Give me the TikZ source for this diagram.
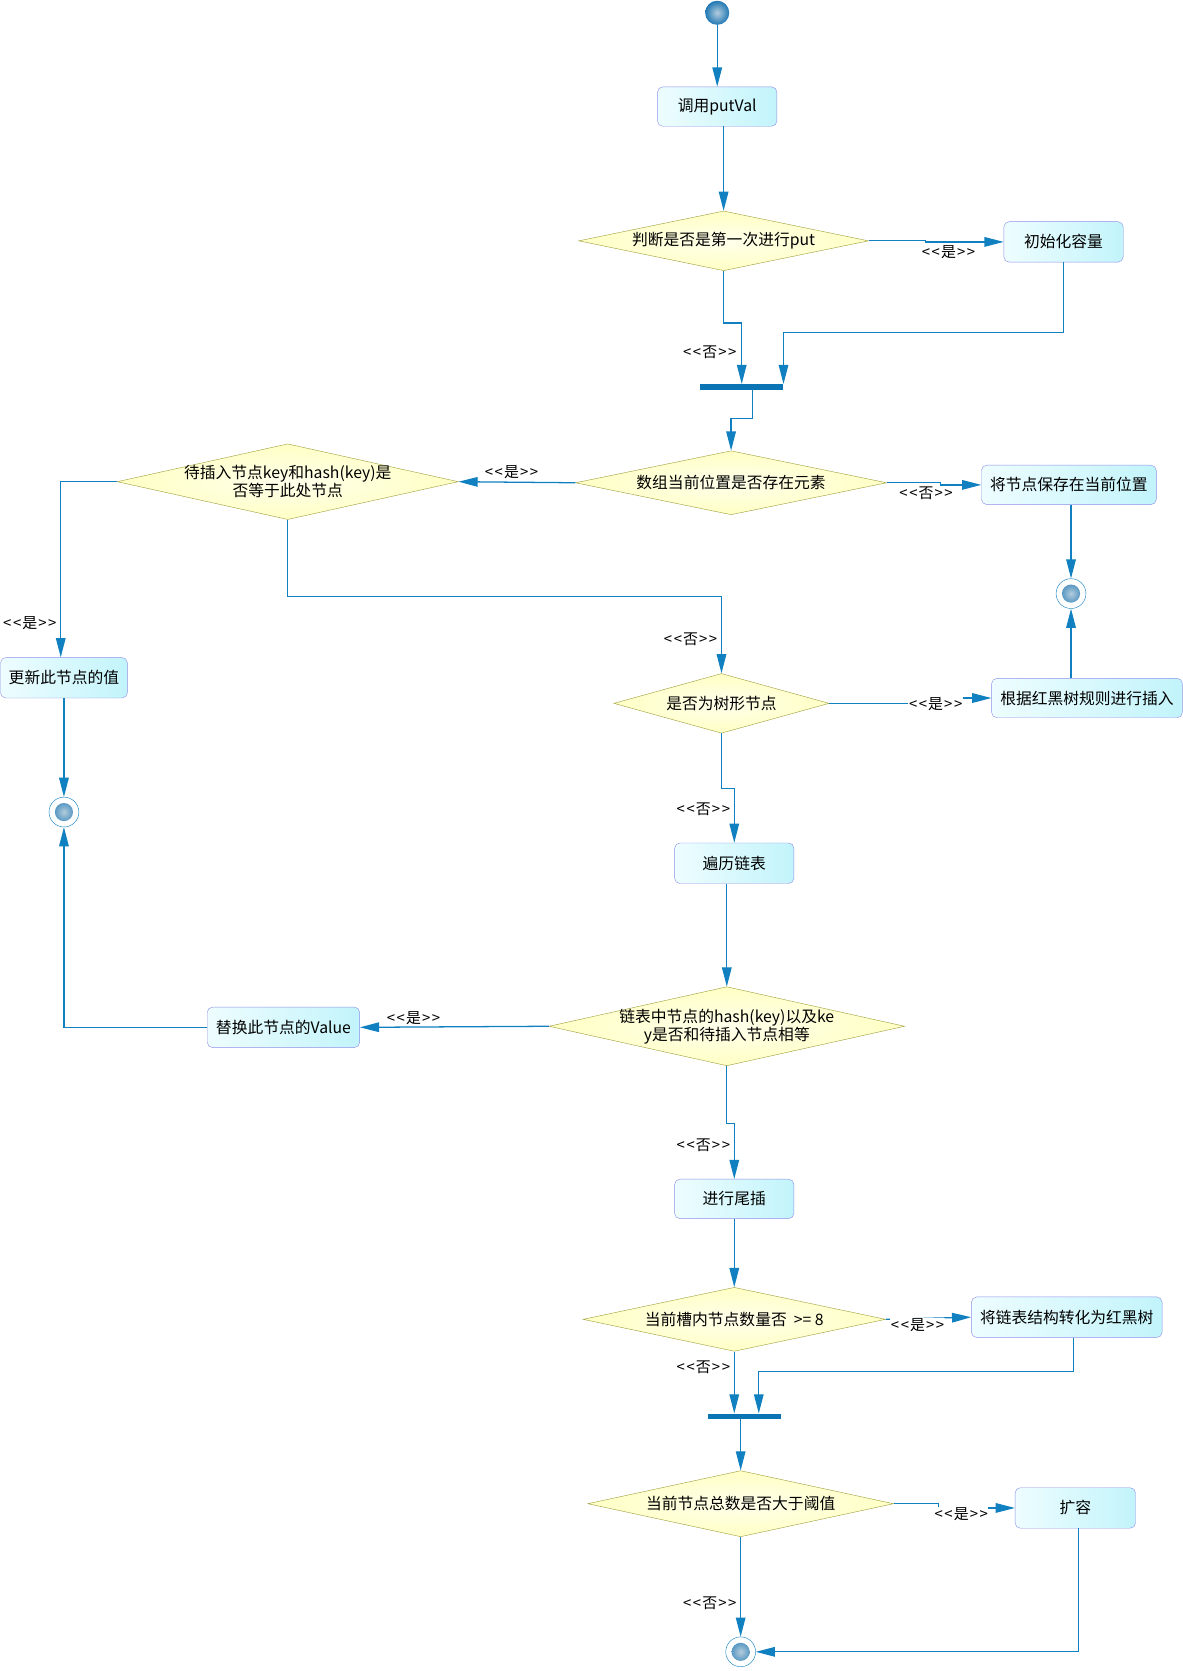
\documentclass[tikz,border=0pt]{standalone}
\usepackage{fontspec}
\setmainfont{Noto Sans CJK SC}
\usetikzlibrary{shapes.geometric,arrows.meta,shadings}

\definecolor{flowblue}{HTML}{1080C0}
\definecolor{barblue}{HTML}{0A74B4}
\definecolor{ballin}{HTML}{B4CCDC}
\definecolor{ballout}{HTML}{2078B4}
\definecolor{boxborder}{HTML}{9090E8}
\definecolor{boxleft}{HTML}{EEFDFF}
\definecolor{boxright}{HTML}{C2F4FB}
\definecolor{diaborder}{HTML}{A0A040}
\definecolor{diain}{HTML}{FFFFEC}
\definecolor{diaout}{HTML}{FFFFC4}

\newcommand\lblyes{<\kern1.5pt<\kern1pt是\kern1pt>\kern1.5pt>}
\newcommand\lblno{<\kern1.5pt<\kern1pt否\kern1pt>\kern1.5pt>}

\tikzset{
  box/.style={rectangle, rounded corners=5pt, draw=boxborder, left color=boxleft,
    right color=boxright, minimum width=112pt, minimum height=37pt, inner xsep=6pt},
  dia/.style={diamond, draw=diaborder, inner color=diain, outer color=diaout,
    inner sep=0pt, align=center},
  bar/.style={rectangle, fill=barblue, inner sep=0pt, minimum height=5pt},
  startnode/.style={circle, inner sep=0pt, minimum size=22.6pt, inner color=ballin, outer color=ballout},
  endnode/.style={circle, draw=flowblue, inner sep=0pt, minimum size=28pt,
    path picture={\shade[inner color=ballin, outer color=ballout] (path picture bounding box.center) circle (8.5pt);}},
  flow/.style={draw=flowblue, line width=1.2pt, -{Triangle[length=18pt,width=9pt]}},
  lbl/.style={fill=white, inner sep=0.5pt, font=\fontsize{14pt}{14pt}\selectfont}
}

\begin{document}
\begin{tikzpicture}[x=1pt, y=-1pt, font=\fontsize{14.8pt}{15.5pt}\selectfont]
  \useasboundingbox (0,0) rectangle (1110,1568);

  \node[startnode] (start) at (673,12) {};
  \node[box] (b-call) at (673,100) {调用putVal};
  \node[dia, minimum width=272pt, minimum height=56pt, aspect=4.86] (d-first) at (679,226) {判断是否是第一次进行put};
  \node[box, minimum height=38pt] (b-init) at (998,227) {初始化容量};
  \node[bar, minimum width=78pt] (bar1) at (696,363) {};
  \node[dia, minimum width=292pt, minimum height=60pt, aspect=4.87] (d-exist) at (686,453) {数组当前位置是否存在元素};
  \node[dia, minimum width=320pt, minimum height=71pt, aspect=4.5, inner xsep=-8pt] (d-same) at (270,452) {待插入节点key和hash(key)是\\否等于此处节点};
  \node[box, minimum width=164pt] (b-save) at (1003,455) {将节点保存在当前位置};
  \node[endnode] (end1) at (1005,557) {};
  \node[box, minimum width=119pt, minimum height=38pt] (b-update) at (60,636) {更新此节点的值};
  \node[endnode] (end2) at (60,762) {};
  \node[dia, minimum width=202pt, minimum height=56pt, aspect=3.6] (d-tree) at (677,660) {是否为树形节点};
  \node[box, minimum width=179pt] (b-rbt) at (1020,655) {根据红黑树规则进行插入};
  \node[box, minimum height=38pt] (b-walk) at (689,810) {遍历链表};
  \node[dia, minimum width=319pt, minimum height=71pt, aspect=4.5, inner xsep=-8pt] (d-eq) at (682,963) {链表中节点的hash(key)以及ke\\y是否和待插入节点相等};
  \node[box, minimum width=143pt, minimum height=38pt] (b-replace) at (266,964) {替换此节点的Value};
  \node[box] (b-tail) at (689,1125) {进行尾插};
  \node[dia, minimum width=284pt, minimum height=60pt, aspect=4.73] (d-eight) at (689,1238) {当前槽内节点数量否~~>=~8};
  \node[box, minimum width=179pt, minimum height=38pt] (b-convert) at (1001,1236) {将链表结构转化为红黑树};
  \node[bar, minimum width=69pt] (bar2) at (698.5,1329) {};
  \node[dia, minimum width=287pt, minimum height=62pt, aspect=4.63] (d-thr) at (695,1411) {当前节点总数是否大于阈值};
  \node[box, minimum width=113pt, minimum height=38pt] (b-resize) at (1009,1415) {扩容};
  \node[endnode] (end3) at (695,1550) {};

  \draw[flow] (start) -- (b-call);
  \draw[flow] (d-first.north |- b-call.south) -- (d-first.north);
  \draw[flow] (d-first.east) -- ++(53,0) |- (b-init.west);
  \draw[flow] (d-first.south) -- ++(0,49) -| (bar1.north);
  \draw[flow] (b-init.south) -- ++(0,66) -| (bar1.north east);
  \draw[flow] ([xshift=10pt]bar1.south) -- ++(0,27) -| (d-exist.north);
  \draw[flow] (d-exist.west) -- (d-same.east);
  \draw[flow] (d-exist.east) -- ++(50,0) |- (b-save.west);
  \draw[flow] (end1 |- b-save.south) -- (end1.north);
  \draw[flow] (d-same.west) -| ([xshift=-3pt]b-update.north);
  \draw[flow] (b-update.south) -- (end2.north);
  \draw[flow] (d-same.south) -- ++(0,72) -| (d-tree.north);
  \draw[flow] (d-tree.east) -- ++(77,0) |- (b-rbt.west);
  \draw[flow] (end1 |- b-rbt.north) -- (end1.south);
  \draw[flow] (d-tree.south) -- ++(0,52) -| (b-walk.north);
  \draw[flow] (d-eq.north |- b-walk.south) -- (d-eq.north);
  \draw[flow] (d-eq.west) -- (b-replace.east);
  \draw[flow] (b-replace.west) -| (end2.south);
  \draw[flow] (d-eq.south) -- ++(0,54) -| (b-tail.north);
  \draw[flow] (b-tail.south) -- (d-eight.north);
  \draw[flow] (d-eight.east) -- (b-convert.west);
  \draw[flow] (d-eight.south) -- (d-eight.south |- bar2.north);
  \draw[flow] ([xshift=6pt]b-convert.south) -- ++(0,32) -| ([xshift=13.5pt]bar2.north);
  \draw[flow] ([xshift=-3.5pt]bar2.south) -- (d-thr.north);
  \draw[flow] (d-thr.east) -- ++(42,0) |- (b-resize.west);
  \draw[flow] ([xshift=3pt]b-resize.south) |- (end3.east);
  \draw[flow] (d-thr.south) -- (end3.north);

  \node[lbl] (l-init) at (890,237) {\lblyes};
  \node[lbl] (l-first) at (666,331) {\lblno};
  \node[lbl] (l-same) at (480,443) {\lblyes};
  \node[lbl] (l-save) at (869,463) {\lblno};
  \node[lbl] (l-update) at (28,585) {\lblyes};
  \node[lbl] (l-tree) at (648,600) {\lblno};
  \node[lbl] (l-rbt) at (878,661) {\lblyes};
  \node[lbl] (l-walk) at (660,759) {\lblno};
  \node[lbl] (l-replace) at (388,955) {\lblyes};
  \node[lbl] (l-tail) at (660,1075) {\lblno};
  \node[lbl] (l-convert) at (861,1243) {\lblyes};
  \node[lbl] (l-eight) at (660,1283) {\lblno};
  \node[lbl] (l-resize) at (902,1421) {\lblyes};
  \node[lbl] (l-end) at (666,1504) {\lblno};
\end{tikzpicture}
\end{document}
